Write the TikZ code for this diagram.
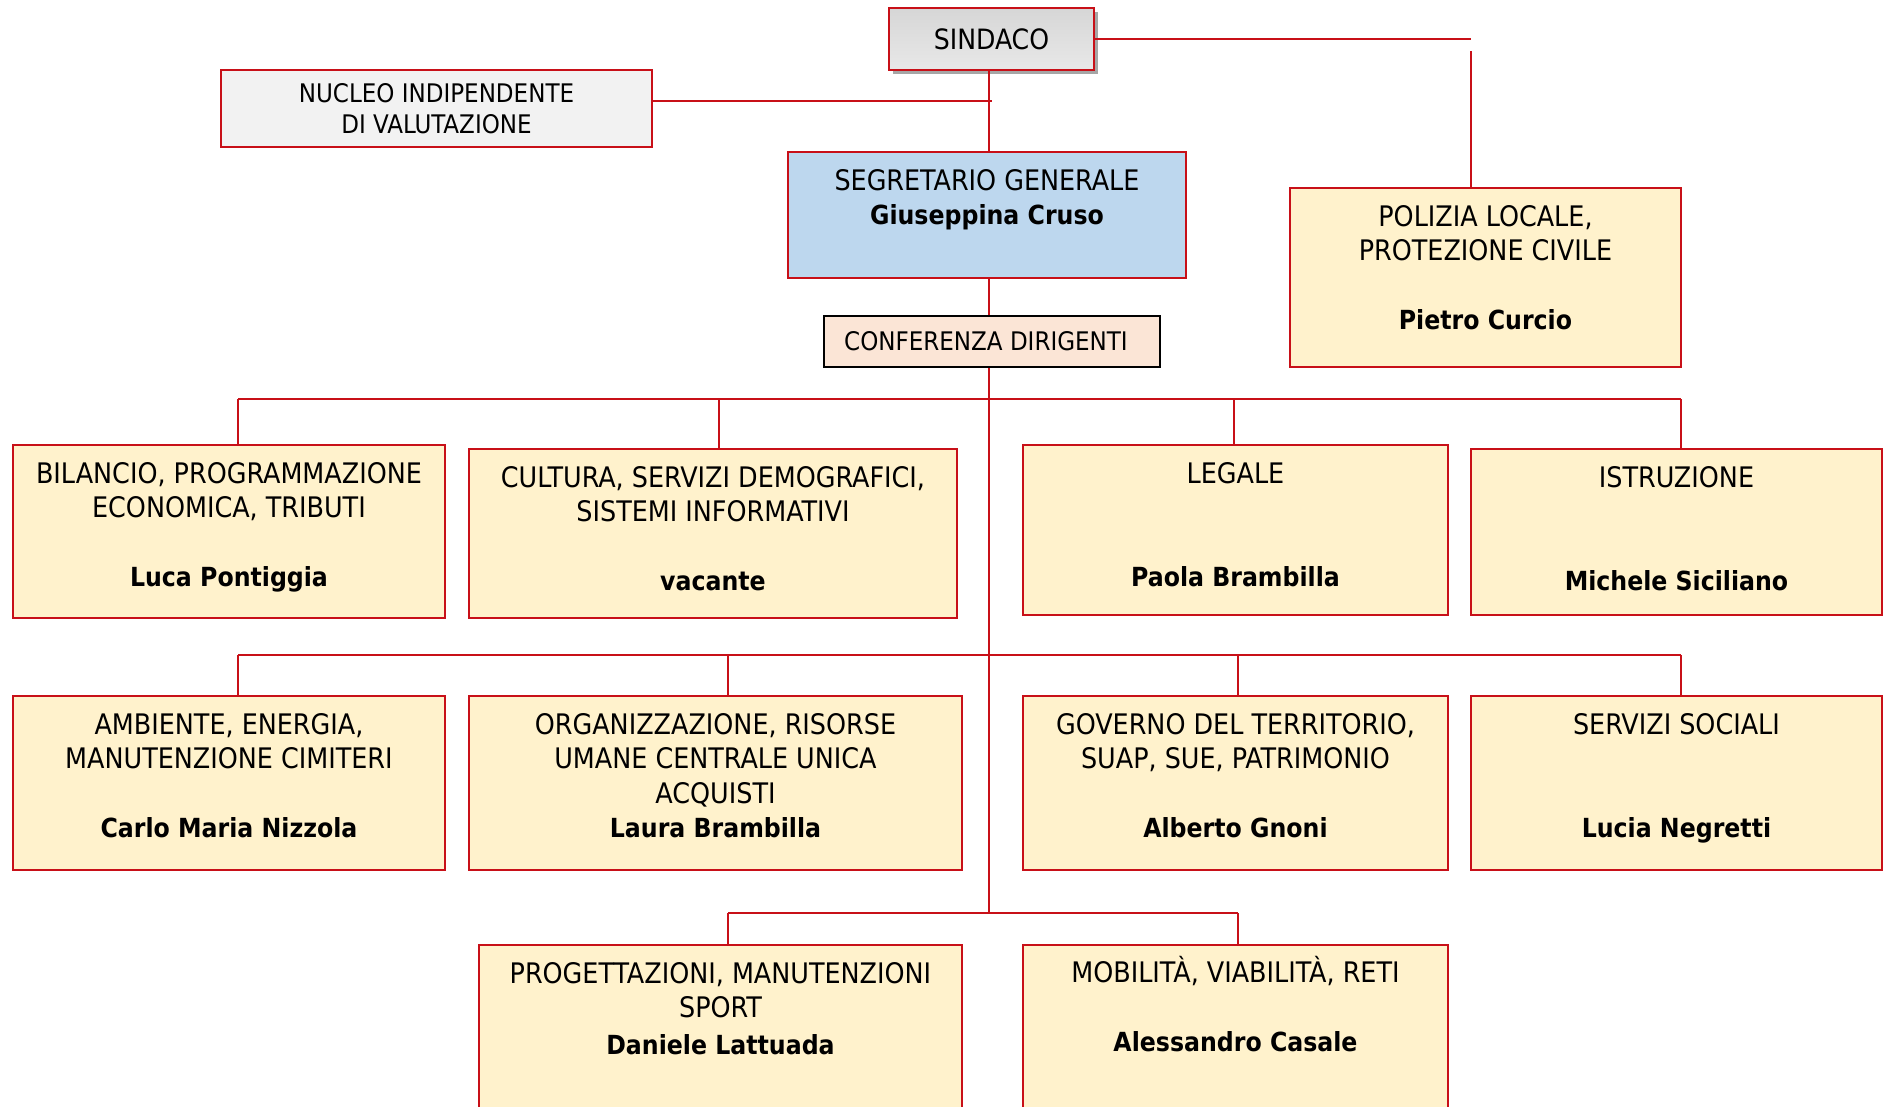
\documentclass[tikz,border=0pt]{standalone}
\usepackage{fontspec}
\setmainfont{DejaVu Sans Condensed}
\usetikzlibrary{shadows}
\definecolor{lred}{RGB}{200,16,24}
\definecolor{cream}{RGB}{255,242,204}
\definecolor{sblue}{RGB}{189,215,238}
\definecolor{peach}{RGB}{251,229,214}
\definecolor{lgray}{RGB}{242,242,242}
\newcommand\obox[6]{\node[#6, minimum width={#4-#2}, minimum height={#5-#3}] (#1) at ({(#2+#4)/2},{(#3+#5)/2}) {};}
\newcommand\nm[1]{{\fontsize{26.3}{34.5}\selectfont\bfseries #1}}
\begin{document}
\begin{tikzpicture}[x=1pt,y=-1pt,
  box/.style={draw=lred, line width=2pt, rectangle, inner sep=0pt},
  unitbox/.style={box, fill=cream},
  txt/.style={align=center, inner sep=0pt, anchor=north, yshift=-18pt,
     font=\fontsize{28.3}{34.5}\selectfont, execute at begin node={\rule{0pt}{28pt}}},
  conn/.style={draw=lred, line width=2pt},
]
\useasboundingbox (0,0) rectangle (1892,1106);
\begin{scope}
\clip (0,0) rectangle (1892,1106);
% boxes
\obox{sin}{889}{8}{1094}{70}{box, top color=black!16, bottom color=black!9, drop shadow={shadow xshift=4pt, shadow yshift=-4pt, fill=black!35, opacity=1}}
\obox{nuc}{221}{70}{652}{147}{box, fill=lgray}
\obox{seg}{788}{152}{1186}{278}{box, fill=sblue}
\obox{conf}{824}{316}{1160}{367}{box, draw=black, fill=peach}
\obox{pol}{1290}{188}{1681}{367}{unitbox}
\obox{bil}{13}{445}{445}{618}{unitbox}
\obox{cul}{469}{449}{957}{618}{unitbox}
\obox{leg}{1023}{445}{1448}{615}{unitbox}
\obox{ist}{1471}{449}{1882}{615}{unitbox}
\obox{amb}{13}{696}{445}{870}{unitbox}
\obox{org}{469}{696}{962}{870}{unitbox}
\obox{gov}{1023}{696}{1448}{870}{unitbox}
\obox{soc}{1471}{696}{1882}{870}{unitbox}
\obox{pro}{479}{945}{962}{1130}{unitbox}
\obox{mob}{1023}{945}{1448}{1130}{unitbox}
% texts
\node[font=\fontsize{28}{34.5}\selectfont] (sint) at (sin) {SINDACO};
\node[align=center, font=\fontsize{25.6}{31}\selectfont] (nuct) at (nuc) {NUCLEO INDIPENDENTE\\DI VALUTAZIONE};
\node[txt] (segt) at (seg.north) {SEGRETARIO GENERALE\\\nm{Giuseppina Cruso}};
\node[font=\fontsize{25.6}{30}\selectfont, xshift=-6pt] (conft) at (conf) {CONFERENZA DIRIGENTI};
\node[txt] (polt) at (pol.north) {POLIZIA LOCALE,\\PROTEZIONE CIVILE\\[34.5pt]\nm{Pietro Curcio}};
\node[txt] (bilt) at (bil.north) {BILANCIO, PROGRAMMAZIONE\\ECONOMICA, TRIBUTI\\[34.5pt]\nm{Luca Pontiggia}};
\node[txt] (cult) at (cul.north) {CULTURA, SERVIZI DEMOGRAFICI,\\SISTEMI INFORMATIVI\\[34.5pt]\nm{vacante}};
\node[txt] (legt) at (leg.north) {LEGALE\\[69pt]\nm{Paola Brambilla}};
\node[txt] (istt) at (ist.north) {ISTRUZIONE\\[69pt]\nm{Michele Siciliano}};
\node[txt] (ambt) at (amb.north) {AMBIENTE, ENERGIA,\\MANUTENZIONE CIMITERI\\[34.5pt]\nm{Carlo Maria Nizzola}};
\node[txt] (orgt) at (org.north) {ORGANIZZAZIONE, RISORSE\\UMANE CENTRALE UNICA\\ACQUISTI\\\nm{Laura Brambilla}};
\node[txt] (govt) at (gov.north) {GOVERNO DEL TERRITORIO,\\SUAP, SUE, PATRIMONIO\\[34.5pt]\nm{Alberto Gnoni}};
\node[txt] (soct) at (soc.north) {SERVIZI SOCIALI\\[69pt]\nm{Lucia Negretti}};
\node[txt] (prot) at (pro.north) {PROGETTAZIONI, MANUTENZIONI\\SPORT\\[2pt]\nm{Daniele Lattuada}};
\node[txt, yshift=6pt] (mobt) at (mob.north) {MOBILITÀ, VIABILITÀ, RETI\\[34.5pt]\nm{Alessandro Casale}};
% connectors
\coordinate (sr) at (1471,40);
\coordinate (sr2) at (1471,51);
\coordinate (nj) at (992,101);
\coordinate (r1) at (989,399);
\coordinate (r2) at (989,655);
\coordinate (r3) at (989,913);
\coordinate (a1) at (238,399);
\coordinate (a2) at (719,399);
\coordinate (a3) at (1234,399);
\coordinate (a4) at (1681,399);
\coordinate (b1) at (238,655);
\coordinate (b2) at (728,655);
\coordinate (b3) at (1238,655);
\coordinate (b4) at (1681,655);
\coordinate (c1) at (728,913);
\coordinate (c2) at (1238,913);
\draw[conn] (sin.east) -- (sin.east -| sr);
\draw[conn] (sr2) -- (sr2 |- pol.north);
\draw[conn] (nuc.east |- nj) -- (nj);
\draw[conn] (sin.south -| r1) -- (seg.north -| r1);
\draw[conn] (seg.south -| r1) -- (conf.north -| r1);
\draw[conn] (conf.south -| r1) -- (r3);
\draw[conn] (a1) -- (a4);
\draw[conn] (a1) -- (a1 |- bil.north);
\draw[conn] (a2) -- (a2 |- cul.north);
\draw[conn] (a3) -- (a3 |- leg.north);
\draw[conn] (a4) -- (a4 |- ist.north);
\draw[conn] (b1) -- (b4);
\draw[conn] (b1) -- (b1 |- amb.north);
\draw[conn] (b2) -- (b2 |- org.north);
\draw[conn] (b3) -- (b3 |- gov.north);
\draw[conn] (b4) -- (b4 |- soc.north);
\draw[conn] (c1) -- (c2);
\draw[conn] (c1) -- (c1 |- pro.north);
\draw[conn] (c2) -- (c2 |- mob.north);
\end{scope}
\end{tikzpicture}
\end{document}
